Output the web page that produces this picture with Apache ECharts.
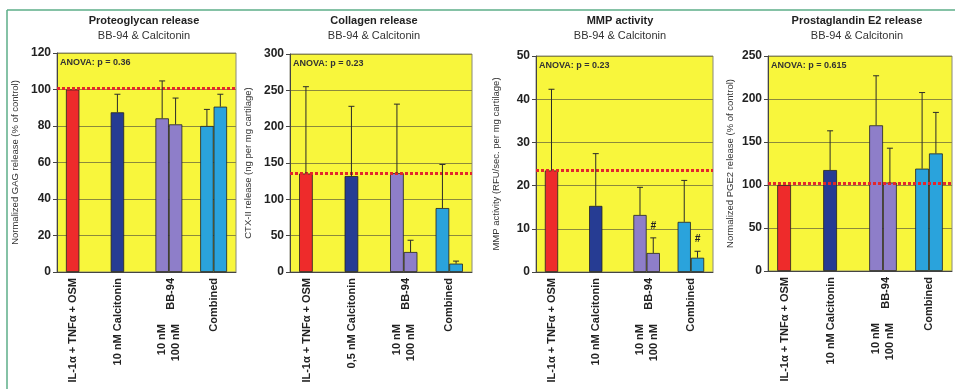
<!DOCTYPE html>
<html><head><meta charset="utf-8">
<script src="https://cdn.jsdelivr.net/npm/echarts@6/dist/echarts.min.js"></script>
<style>html,body{margin:0;padding:0;background:#fff}#c{width:955px;height:389px}</style>
</head><body><div id="c"></div>
<script>
// ---------- DATA ----------
const catsGag = ['IL-1α + TNFα + OSM', '10 nM Calcitonin', 'BB-94', 'Combined'];
const catsCtx = ['IL-1α + TNFα + OSM', '0,5 nM Calcitonin', 'BB-94', 'Combined'];
const catsMmp = ['IL-1α + TNFα + OSM', '10 nM Calcitonin', 'BB-94', 'Combined'];
const catsPge = ['IL-1α + TNFα + OSM', '10 nM Calcitonin', 'BB-94', 'Combined'];
const doseLabels = ['10 nM', '100 nM'];

const titles = ['Proteoglycan release', 'Collagen release', 'MMP activity', 'Prostaglandin E2 release'];
const subtitle = 'BB-94 & Calcitonin';
const yNames = ['Normalized GAG release (% of control)', 'CTX-II release (ng per mg cartilage)',
  'MMP activity (RFU/sec. per mg cartilage)', 'Normalized PGE2 release (% of control)'];
const anovaTexts = ['ANOVA: p = 0.36', 'ANOVA: p = 0.23', 'ANOVA: p = 0.23', 'ANOVA: p = 0.615'];

const gagLow = [100, 87.5, 84.2, 80.0];
const gagLowErr = [null, 97.4, 104.7, 89.1];
const gagHigh = [null, null, 80.9, 90.6];
const gagHighErr = [null, null, 95.3, 97.4];
const gagRef = 100.5;
const gagAxis = [0, 120, 20];

const ctxLow = [135.5, 132, 136, 88];
const ctxLowErr = [255, 228, 231, 148];
const ctxHigh = [null, null, 27.5, 11.5];
const ctxHighErr = [null, null, 43.7, 15];
const ctxRef = 135.5;
const ctxAxis = [0, 300, 50];

const mmpLow = [23.5, 15.3, 13.2, 11.6];
const mmpLowErr = [42.3, 27.4, 19.6, 21.2];
const mmpHigh = [null, null, 4.4, 3.3];
const mmpHighErr = [null, null, 7.9, 4.8];
const mmpHighMarks = ['', '', '#', '#'];
const mmpRef = 23.5;
const mmpAxis = [0, 50, 10];

const pgeLow = [100, 117.4, 169.4, 119];
const pgeLowErr = [null, 163, 227, 207.5];
const pgeHigh = [null, null, 102.8, 136.7];
const pgeHighErr = [null, null, 142.8, 184.4];
const pgeRef = 101.5;
const pgeAxis = [0, 250, 50];

// ---------- LAYOUT / STYLE ----------
const barColors = ['#ee2b2b', '#263c93', '#8e7ec9', '#2aa3dc'];
const W = 955, H = 389;
const boxes = [
  {l: 57, r: 236, t: 53, b: 272, nameGap: 37, titleX: 144},
  {l: 290, r: 472, t: 54, b: 272, nameGap: 37, titleX: 374},
  {l: 536, r: 713, t: 56, b: 272, nameGap: 35, titleX: 620},
  {l: 768, r: 952, t: 56, b: 271, nameGap: 33, titleX: 857}
];
const FONT = 'Liberation Sans, Arial, sans-serif';

const panels = [
  {cats: catsGag, low: gagLow, lowErr: gagLowErr, high: gagHigh, highErr: gagHighErr, ref: gagRef, axis: gagAxis, marks: null},
  {cats: catsCtx, low: ctxLow, lowErr: ctxLowErr, high: ctxHigh, highErr: ctxHighErr, ref: ctxRef, axis: ctxAxis, marks: null},
  {cats: catsMmp, low: mmpLow, lowErr: mmpLowErr, high: mmpHigh, highErr: mmpHighErr, ref: mmpRef, axis: mmpAxis, marks: mmpHighMarks},
  {cats: catsPge, low: pgeLow, lowErr: pgeLowErr, high: pgeHigh, highErr: pgeHighErr, ref: pgeRef, axis: pgeAxis, marks: null}
];

const BAR_FRAC = 0.30;

function errSeries(g, tops, means, side, marks) {
  const data = [];
  tops.forEach((t, i) => { if (t != null) data.push([i, t, means[i]]); });
  return {
    type: 'custom', xAxisIndex: g * 3, yAxisIndex: g, z: 5, silent: true,
    encode: {x: 0, y: 1},
    data: data,
    renderItem: function (params, api) {
      const cat = api.value(0), top = api.value(1), base = api.value(2);
      const c = api.coord([cat, top]);
      const b = api.coord([cat, base]);
      const band = api.size([1, 0])[0];
      const x = c[0] + side * band * BAR_FRAC / 2;
      const st = {stroke: '#2a2a2a', lineWidth: 1};
      const children = [
        {type: 'line', shape: {x1: x, y1: b[1], x2: x, y2: c[1]}, style: st},
        {type: 'line', shape: {x1: x - 3, y1: c[1], x2: x + 3, y2: c[1]}, style: st}
      ];
      if (marks && marks[cat]) {
        children.push({type: 'text', style: {text: marks[cat], x: x, y: c[1] - 12, align: 'center', verticalAlign: 'middle',
          font: 'italic bold 10px ' + FONT, fill: '#222'}});
      }
      return {type: 'group', children: children};
    }
  };
}

const grid = [], xAxis = [], yAxis = [], series = [], title = [], graphic = [];

panels.forEach((p, g) => {
  const bx = boxes[g];
  grid.push({left: bx.l, top: bx.t, width: bx.r - bx.l, height: bx.b - bx.t, show: true,
    outerBoundsMode: 'none', containLabel: false,
    backgroundColor: '#f8f63c', borderColor: '#8a8a7a', borderWidth: 1});
  const labelBase = {fontFamily: FONT, fontWeight: 'bold', fontSize: 11, color: '#222'};
  // main category axis
  xAxis.push({type: 'category', gridIndex: g, position: 'bottom', offset: 0, data: p.cats,
    axisLine: {show: true, lineStyle: {color: '#444'}}, axisTick: {show: false}, splitLine: {show: false},
    axisLabel: Object.assign({}, labelBase, {interval: 0, rotate: 90, margin: 6,
      formatter: (v, i) => i === 2 ? '' : (i < 2 ? '{s|' + v + '}' : '{n|' + v + '}'),
      rich: {s: Object.assign({}, labelBase, {padding: [0, 0, 12, 0]}), n: Object.assign({}, labelBase)}
    })});
  // group label axis (BB-94)
  xAxis.push({type: 'category', gridIndex: g, position: 'bottom', offset: 0, data: p.cats,
    axisLine: {show: false}, axisTick: {show: false}, splitLine: {show: false},
    axisLabel: Object.assign({}, labelBase, {interval: 0, rotate: 90, margin: 6,
      formatter: (v, i) => i === 2 ? '{b|' + v + '}' : '',
      rich: {b: Object.assign({}, labelBase, {padding: [5, 0, 0, 0]})}
    })});
  // dose labels axis
  xAxis.push({type: 'category', gridIndex: g, position: 'bottom', offset: 0, data: p.cats,
    axisLine: {show: false}, axisTick: {show: false}, splitLine: {show: false},
    axisLabel: Object.assign({}, labelBase, {interval: 0, rotate: 90, margin: 52, lineHeight: 14,
      formatter: (v, i) => i === 2 ? doseLabels.join('\n') : ''
    })});
  yAxis.push({type: 'value', gridIndex: g, position: 'left', min: p.axis[0], max: p.axis[1], interval: p.axis[2],
    name: yNames[g], nameLocation: 'middle', nameGap: bx.nameGap,
    nameTextStyle: {fontFamily: FONT, fontSize: 9.5, color: '#333'},
    axisLine: {show: true, lineStyle: {color: '#444'}},
    axisTick: {show: true, length: 4, lineStyle: {color: '#444'}},
    axisLabel: {fontFamily: FONT, fontWeight: 'bold', fontSize: 12, color: '#222', margin: 6},
    splitLine: {show: true, lineStyle: {color: '#8c8a3c', width: 1}}
  });
  series.push({type: 'bar', xAxisIndex: g * 3, yAxisIndex: g, barWidth: (BAR_FRAC * 100) + '%', barGap: '0%',
    data: p.low.map((v, i) => v == null ? '-' : {value: v, itemStyle: {color: barColors[i]}}),
    itemStyle: {borderColor: '#222', borderWidth: 0.8},
    markLine: {silent: true, symbol: ['none', 'none'], label: {show: false},
      lineStyle: {color: '#e3262b', type: [3, 2], width: 3},
      data: [{yAxis: p.ref}]},
    z: 2
  });
  series.push({type: 'bar', xAxisIndex: g * 3, yAxisIndex: g, barWidth: (BAR_FRAC * 100) + '%', barGap: '0%',
    data: p.high.map((v, i) => v == null ? '-' : {value: v, itemStyle: {color: barColors[i]}}),
    itemStyle: {borderColor: '#222', borderWidth: 0.8}, z: 2
  });
  series.push(errSeries(g, p.lowErr, p.low, -1, null));
  series.push(errSeries(g, p.highErr, p.high, 1, p.marks));

  title.push({text: titles[g], subtext: subtitle, left: bx.titleX, top: 14, textAlign: 'center', itemGap: 1, padding: 0,
    textStyle: {fontFamily: FONT, fontWeight: 'bold', fontSize: 11, color: '#222', lineHeight: 14},
    subtextStyle: {fontFamily: FONT, fontSize: 11, color: '#333', lineHeight: 14}});
  graphic.push({type: 'text', left: bx.l + 3, top: bx.t + 5, z: 10,
    style: {text: anovaTexts[g], font: 'bold 9px ' + FONT, fill: '#333'}});
});

graphic.push({type: 'line', shape: {x1: 7, y1: 10, x2: W, y2: 10}, style: {stroke: '#5cae88', lineWidth: 1.5}});
graphic.push({type: 'line', shape: {x1: 7, y1: 10, x2: 7, y2: H}, style: {stroke: '#5cae88', lineWidth: 1.5}});

const chart = echarts.init(document.getElementById('c'), null, {renderer: 'canvas'});
chart.setOption({animation: false, backgroundColor: '#ffffff', title, grid, xAxis, yAxis, series, graphic});
</script></body></html>
